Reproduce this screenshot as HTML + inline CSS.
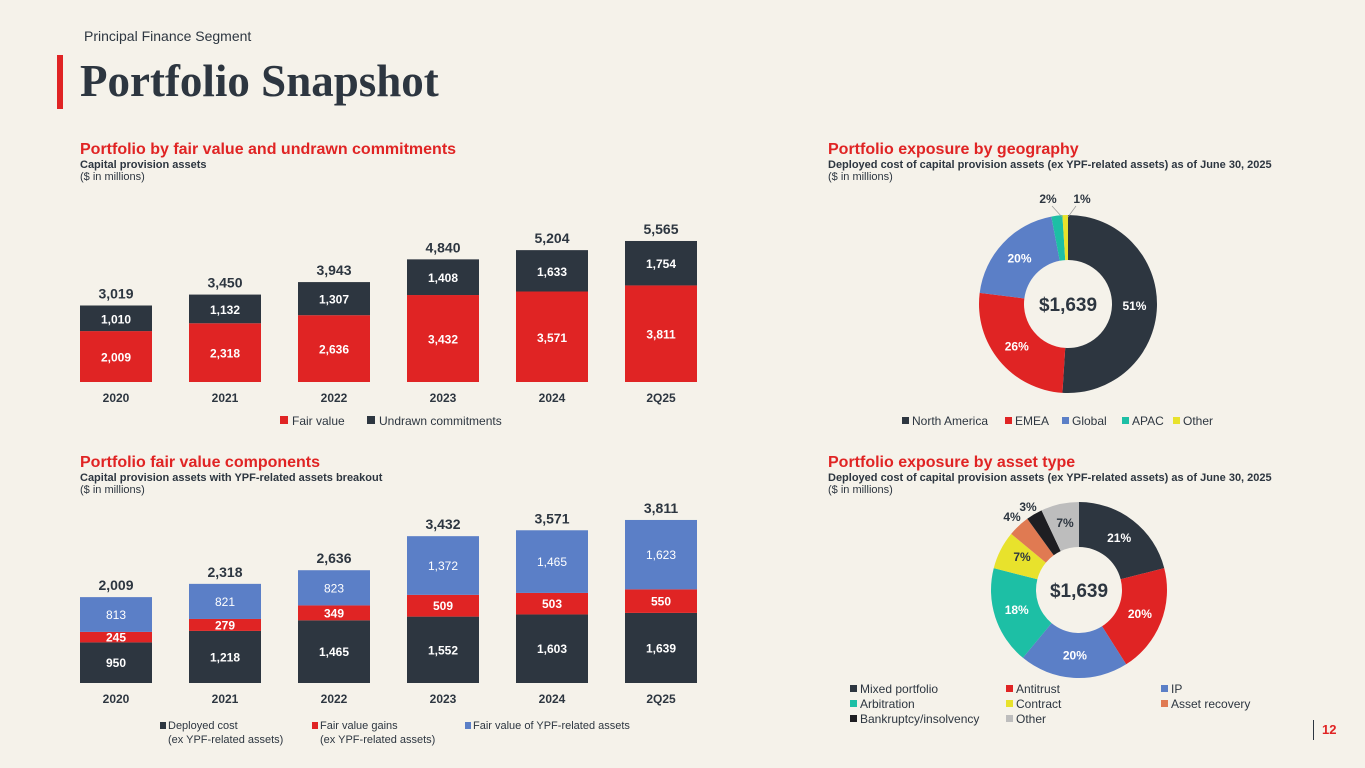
<!DOCTYPE html>
<html><head><meta charset="utf-8">
<style>
body{margin:0;width:1365px;height:768px;background:#f5f2ea;font-family:"Liberation Sans",sans-serif;overflow:hidden;position:relative;color:#2d3640}
.abs{position:absolute}
.h{color:#e02424;font-weight:bold;font-size:16px}
.sub{font-size:11px;font-weight:bold;color:#2d3640}
.sm{font-size:11px;color:#2d3640}
svg text{font-family:"Liberation Sans",sans-serif}
</style></head><body>
<div class="abs" style="left:84px;top:28px;font-size:14px">Principal Finance Segment</div>
<div class="abs" style="left:57px;top:55px;width:6px;height:54px;background:#e02424"></div>
<div class="abs" style="left:80px;top:55px;font-family:'Liberation Serif',serif;font-weight:bold;font-size:45px;color:#2d3640">Portfolio Snapshot</div>

<div class="abs" style="left:80px;top:141px"><div class="h">Portfolio by fair value and undrawn commitments</div><div class="sub">Capital provision assets</div><div class="sm">($ in millions)</div></div>
<div class="abs" style="left:80px;top:454px"><div class="h">Portfolio fair value components</div><div class="sub">Capital provision assets with YPF-related assets breakout</div><div class="sm">($ in millions)</div></div>
<div class="abs" style="left:828px;top:141px"><div class="h">Portfolio exposure by geography</div><div class="sub">Deployed cost of capital provision assets (ex YPF-related assets) as of June 30, 2025</div><div class="sm">($ in millions)</div></div>
<div class="abs" style="left:828px;top:454px"><div class="h">Portfolio exposure by asset type</div><div class="sub">Deployed cost of capital provision assets (ex YPF-related assets) as of June 30, 2025</div><div class="sm">($ in millions)</div></div>
<div class="abs" style="left:1313px;top:720px;border-left:1px solid #2d3640;padding-left:8px;font-size:13px;font-weight:bold;color:#e02424;line-height:20px">12</div>

<svg id="s" class="abs" style="left:0;top:0" width="1365" height="768"></svg>
<script>
const years=["2020","2021","2022","2023","2024","2Q25"];
const fairValue=[2009,2318,2636,3432,3571,3811];
const undrawn=[1010,1132,1307,1408,1633,1754];
const totals1=[3019,3450,3943,4840,5204,5565];
const deployed=[950,1218,1465,1552,1603,1639];
const fvGains=[245,279,349,509,503,550];
const ypf=[813,821,823,1372,1465,1623];
const totals2=[2009,2318,2636,3432,3571,3811];
const geoLabels=["North America","EMEA","Global","APAC","Other"];
const geoVals=[51,26,20,2,1];
const assetLabels=["Mixed portfolio","Antitrust","IP","Arbitration","Contract","Asset recovery","Bankruptcy/insolvency","Other"];
const assetVals=[21,20,20,18,7,4,3,7];
const DARK="#2d3640",RED="#e02424",BLUE="#5b7fc7";
const geoColors=[DARK,RED,BLUE,"#1dbfa5","#e8e22c"];
const assetColors=[DARK,RED,BLUE,"#1dbfa5","#e8e22c","#e07a52","#1e1e22","#bdbdbd"];
const S=document.getElementById('s');const NS="http://www.w3.org/2000/svg";
function el(t,a,txt){const e=document.createElementNS(NS,t);for(const k in a)e.setAttribute(k,a[k]);if(txt!=null)e.textContent=txt;S.appendChild(e);return e;}
const fmt=v=>v.toLocaleString('en-US');
const xC=i=>116+i*109;
// chart 1
const y1=v=>382-v*0.02534;
years.forEach((yr,i)=>{
 let r=el('rect',{x:xC(i)-36,y:y1(fairValue[i]),width:72,height:382-y1(fairValue[i]),fill:RED});
 
 let r2=el('rect',{x:xC(i)-36,y:y1(fairValue[i]+undrawn[i]),width:72,height:undrawn[i]*0.02534,fill:DARK});
 
 el('text',{x:xC(i),y:y1(fairValue[i]/2)+5,'text-anchor':'middle',fill:'#fff','font-size':12,'font-weight':'bold'},fmt(fairValue[i]));
 el('text',{x:xC(i),y:y1(fairValue[i]+undrawn[i]/2)+5,'text-anchor':'middle',fill:'#fff','font-size':12,'font-weight':'bold'},fmt(undrawn[i]));
 el('text',{x:xC(i),y:y1(totals1[i])-7,'text-anchor':'middle',fill:DARK,'font-size':14,'font-weight':'bold'},fmt(totals1[i]));
 el('text',{x:xC(i),y:402,'text-anchor':'middle',fill:DARK,'font-size':12,'font-weight':'bold'},yr);
});
[[280,RED,"Fair value"],[367,DARK,"Undrawn commitments"]].forEach(l=>{let r=el('rect',{x:l[0],y:416,width:8,height:8,fill:l[1]});el('text',{x:l[0]+12,y:425,'font-size':12,fill:DARK},l[2]);});
// chart 2
const y2=v=>683-v*0.04277;
years.forEach((yr,i)=>{
 const segs=[[0,deployed[i],DARK,'deployed'],[deployed[i],fvGains[i],RED,'fv-gains'],[deployed[i]+fvGains[i],ypf[i],BLUE,'ypf']];
 segs.forEach(s=>{let r=el('rect',{x:xC(i)-36,y:y2(s[0]+s[1]),width:72,height:s[1]*0.04277,fill:s[2]});
  
  el('text',{x:xC(i),y:y2(s[0]+s[1]/2)+4.5,'text-anchor':'middle',fill:'#fff','font-size':12,'font-weight':s[3]=='ypf'?'normal':'bold'},fmt(s[1]));});
 el('text',{x:xC(i),y:y2(deployed[i]+fvGains[i]+ypf[i])-7,'text-anchor':'middle',fill:DARK,'font-size':14,'font-weight':'bold'},fmt(totals2[i]));
 el('text',{x:xC(i),y:703,'text-anchor':'middle',fill:DARK,'font-size':12,'font-weight':'bold'},yr);
});
[[160,DARK,"Deployed cost","(ex YPF-related assets)"],[312,RED,"Fair value gains","(ex YPF-related assets)"],[465,BLUE,"Fair value of YPF-related assets",""]].forEach(l=>{let r=el('rect',{x:l[0],y:722,width:6,height:7,fill:l[1]});el('text',{x:l[0]+8,y:729,'font-size':11,fill:DARK},l[2]);el('text',{x:l[0]+8,y:743,'font-size':11,fill:DARK},l[3]);});
// donuts
function donut(cx,cy,R,r,vals,cols,labels,name,override){
 let a=0;const tot=vals.reduce((p,c)=>p+c,0);
 vals.forEach((v,i)=>{const a0=a/tot*2*Math.PI,a1=(a+v)/tot*2*Math.PI;a+=v;
  const p=(ang,rad)=>[cx+rad*Math.sin(ang),cy-rad*Math.cos(ang)];
  const L=(a1-a0)>Math.PI?1:0;const[o0x,o0y]=p(a0,R),[o1x,o1y]=p(a1,R),[i1x,i1y]=p(a1,r),[i0x,i0y]=p(a0,r);
  let e=el('path',{d:`M${o0x},${o0y}A${R},${R} 0 ${L} 1 ${o1x},${o1y}L${i1x},${i1y}A${r},${r} 0 ${L} 0 ${i0x},${i0y}Z`,fill:cols[i]});
  
  const m=(a0+a1)/2;let[tx,ty]=p(m,(R+r)/2);let fill='#fff';
  const o=override[i];if(o){tx=o[0];ty=o[1];fill=o[2];}
  el('text',{x:tx,y:ty+4,'text-anchor':'middle',fill:fill,'font-size':12,'font-weight':'bold'},v+'%');
 });
 el('text',{x:cx,y:cy+7,'text-anchor':'middle',fill:DARK,'font-size':19,'font-weight':'bold'},'$1,639');
}
donut(1068,304,89,44,geoVals,geoColors,geoLabels,'geo',{3:[1048,199,DARK],4:[1082,199,DARK]});
el('line',{x1:1062,y1:217,x2:1052,y2:206,stroke:'#999','stroke-width':0.7});
el('line',{x1:1068,y1:217,x2:1076,y2:206,stroke:'#999','stroke-width':0.7});
donut(1079,590,88,43,assetVals,assetColors,assetLabels,'asset',{4:[1022,557,DARK],5:[1012,517,DARK],6:[1028,507,DARK],7:[1065,523,DARK]});
// geo legend
let gx=[902,1005,1062,1122,1173];
geoLabels.forEach((l,i)=>{let r=el('rect',{x:gx[i],y:417,width:7,height:7,fill:geoColors[i]});el('text',{x:gx[i]+10,y:425,'font-size':12,fill:DARK},l);});
let ax=[850,1006,1161],ay=[693,708,723];
assetLabels.forEach((l,i)=>{const c=i%3,rw=Math.floor(i/3);let r=el('rect',{x:ax[c],y:ay[rw]-8,width:7,height:7,fill:assetColors[i]});el('text',{x:ax[c]+10,y:ay[rw],'font-size':12,fill:DARK},l);});
</script>
</body></html>
